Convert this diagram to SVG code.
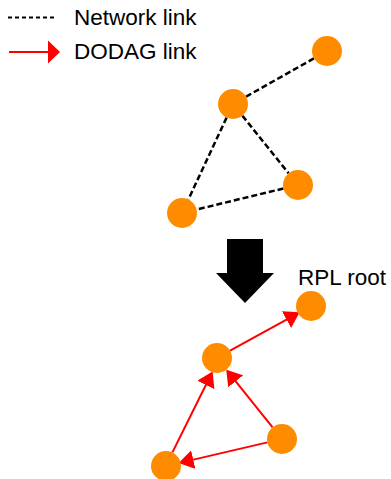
<svg xmlns="http://www.w3.org/2000/svg" width="391" height="479" viewBox="0 0 391 479">
  <style>
    .node { fill: #FF8C00; }
    .net { stroke: #000; stroke-width: 2.5; stroke-dasharray: 6 3; fill: none; }
    .dodag { stroke: #FF0000; stroke-width: 2; fill: none; marker-end: url(#head); }
    .label { font-family: "Liberation Sans", Arial, sans-serif; font-size: 22.5px; fill: #000; }
  </style>
  <defs>
    <marker id="head" markerUnits="userSpaceOnUse" markerWidth="15" markerHeight="19" viewBox="0 0 15 19" refX="13" refY="9.5" orient="auto">
      <path d="M0,0 L15,9.5 L0,19 Z" fill="#FF0000"/>
    </marker>
  </defs>
  <rect width="391" height="479" fill="#fff"/>

  <!-- legend -->
  <g id="legend">
    <line x1="8" y1="17.5" x2="54" y2="17.5" stroke="#000" stroke-width="2" stroke-dasharray="4 3"/>
    <text class="label" x="74" y="25">Network link</text>
    <line x1="9" y1="52" x2="49" y2="52" stroke="#FF0000" stroke-width="2"/>
    <polygon points="48,40.5 60,52 48,63.5" fill="#FF0000"/>
    <text class="label" x="74" y="58.5">DODAG link</text>
  </g>

  <!-- network links -->
  <g id="network-links">
    <line class="net" x1="313.9" y1="58.4" x2="246.1" y2="96.6"/>
    <line class="net" x1="242.4" y1="115.7" x2="288.6" y2="173.3"/>
    <line class="net" x1="226.6" y1="117.6" x2="188.4" y2="199.4"/>
    <line class="net" x1="283.4" y1="188.5" x2="196.6" y2="209.5"/>
  </g>

  <!-- network nodes -->
  <g id="net-a"><circle class="node" cx="327" cy="51" r="15"/></g>
  <g id="net-b"><circle class="node" cx="233" cy="104" r="15"/></g>
  <g id="net-c"><circle class="node" cx="298" cy="185" r="15"/></g>
  <g id="net-d"><circle class="node" cx="182" cy="213" r="15"/></g>

  <!-- transform arrow -->
  <g id="transform-arrow">
    <polygon points="227,239 263,239 263,273 274,273 245,303 216,273 227,273" fill="#000"/>
  </g>

  <!-- DODAG links -->
  <g id="dodag-links">
    <line class="dodag" x1="230.1" y1="350.7" x2="297.9" y2="313.3"/>
    <line class="dodag" x1="272.6" y1="427.3" x2="227.5" y2="371.2"/>
    <line class="dodag" x1="172.4" y1="452.4" x2="211.7" y2="373.3"/>
    <line class="dodag" x1="267.4" y1="442.4" x2="180.6" y2="462.6"/>
  </g>

  <!-- DODAG nodes -->
  <g id="rpl-root">
    <circle class="node" cx="311" cy="306" r="15"/>
    <text class="label" x="298" y="285">RPL root</text>
  </g>
  <g id="dodag-b"><circle class="node" cx="217" cy="358" r="15"/></g>
  <g id="dodag-c"><circle class="node" cx="282" cy="439" r="15"/></g>
  <g id="dodag-d"><circle class="node" cx="166" cy="466" r="15"/></g>
</svg>
